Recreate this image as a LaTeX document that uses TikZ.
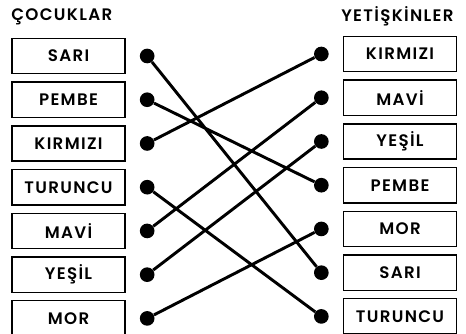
\documentclass[tikz,border=0pt]{standalone}
\usepackage{fontspec}
\setmainfont{Poppins}[UprightFont=* SemiBold,LetterSpace=8]
\usetikzlibrary{positioning}

\begin{document}
\begin{tikzpicture}[x=0.75pt,y=-0.75pt,node distance=32.8pt,
                    font=\fontsize{12.5}{14}\selectfont]
  \tikzstyle{kutu}=[draw,line width=1.1pt,minimum width=85pt,minimum height=26.5pt,inner sep=0pt]
  \tikzstyle{nokta}=[circle,fill=black,inner sep=0pt,minimum size=11pt]
  \tikzstyle{bag}=[line width=2.2pt]

  \useasboundingbox (0,0) rectangle (466,334);

  \node[anchor=west,inner sep=0pt] (cocuk) at (11,17) {ÇOCUKLAR};
  \node[anchor=west,inner sep=0pt] (yetiskin) at (341,16) {YETİŞKİNLER};

  % sol
  \node[kutu] (lsari) at (68.5,56) {SARI};
  \node[kutu] (lpembe) [below of=lsari] {PEMBE};
  \node[kutu] (lkirmizi) [below of=lpembe] {KIRMIZI};
  \node[kutu] (lturuncu) [below of=lkirmizi] {TURUNCU};
  \node[kutu] (lmavi) [below of=lturuncu] {MAVİ};
  \node[kutu] (lyesil) [below of=lmavi] {YEŞİL};
  \node[kutu] (lmor) [below of=lyesil] {MOR};

  % sag
  \node[kutu] (rkirmizi) at (400,54) {KIRMIZI};
  \node[kutu] (rmavi) [below of=rkirmizi] {MAVİ};
  \node[kutu] (ryesil) [below of=rmavi] {YEŞİL};
  \node[kutu] (rpembe) [below of=ryesil] {PEMBE};
  \node[kutu] (rmor) [below of=rpembe] {MOR};
  \node[kutu] (rsari) [below of=rmor] {SARI};
  \node[kutu] (rturuncu) [below of=rsari] {TURUNCU};

  \begin{scope}[node distance=59pt]
  \node[nokta] (l1) [right of=lsari] {};
  \node[nokta] (l2) [right of=lpembe] {};
  \node[nokta] (l3) [right of=lkirmizi] {};
  \node[nokta] (l4) [right of=lturuncu] {};
  \node[nokta] (l5) [right of=lmavi] {};
  \node[nokta] (l6) [right of=lyesil] {};
  \node[nokta] (l7) [right of=lmor] {};

  \node[nokta] (r1) [left of=rkirmizi] {};
  \node[nokta] (r2) [left of=rmavi] {};
  \node[nokta] (r3) [left of=ryesil] {};
  \node[nokta] (r4) [left of=rpembe] {};
  \node[nokta] (r5) [left of=rmor] {};
  \node[nokta] (r6) [left of=rsari] {};
  \node[nokta] (r7) [left of=rturuncu] {};
  \end{scope}

  \draw[bag] (l1) -- (r6)
             (l2) -- (r4)
             (l3) -- (r1)
             (l4) -- (r7)
             (l5) -- (r2)
             (l6) -- (r3)
             (l7) -- (r5);

\end{tikzpicture}
\end{document}
